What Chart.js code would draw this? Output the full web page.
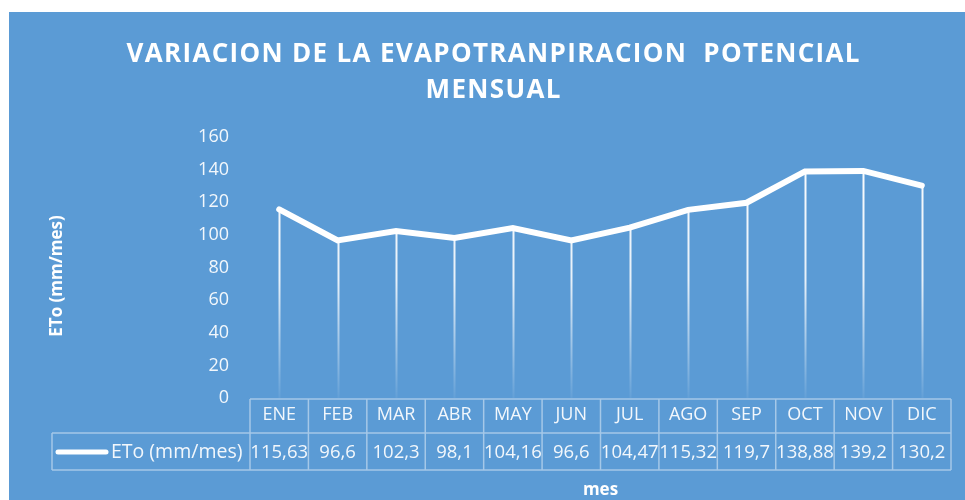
<!DOCTYPE html>
<html>

<head>
    <meta charset="utf-8">
    <title>ETo mensual</title>
    <script src="https://cdn.jsdelivr.net/npm/chart.js@4.4.0/dist/chart.umd.min.js"></script>
    <style>
        body { margin: 0; background: #fff; }
    </style>
</head>

<body>
    <canvas id="chartJSContainer" width="965" height="500"></canvas>
    <script>
        const meses = ["ENE", "FEB", "MAR", "ABR", "MAY", "JUN", "JUL", "AGO", "SEP", "OCT", "NOV", "DIC"]
        const eto = [115.63, 96.6, 102.3, 98.1, 104.16, 96.6, 104.47, 115.32, 119.7, 138.88, 139.2, 130.2]
        const serieNombre = "ETo (mm/mes)"
        const tituloLineas = ["VARIACION DE LA EVAPOTRANPIRACION  POTENCIAL", "MENSUAL"]
        const ejeY = "ETo (mm/mes)"
        const ejeX = "mes"

        const FONT = "'Open Sans', sans-serif"
        const TXT = 'rgba(255,255,255,0.92)'
        const BORDE = 'rgba(255,255,255,0.45)'

        // fondo azul, titulo y textos de ejes
        const decor = {
            id: 'decor',
            beforeDraw(chart) {
                const ctx = chart.ctx
                ctx.save()
                ctx.fillStyle = '#5b9bd5'
                ctx.fillRect(9, 12, chart.width - 9, chart.height - 12)

                ctx.fillStyle = '#fff'
                ctx.font = 'bold 26px ' + FONT
                ctx.textBaseline = 'alphabetic'
                ctx.textAlign = 'left'
                const target = 733
                const w0 = ctx.measureText(tituloLineas[0]).width
                const ls = (target - w0) / (tituloLineas[0].length - 1)
                ctx.letterSpacing = ls + 'px'
                const cx = 493
                ctx.fillText(tituloLineas[0], cx - target / 2, 62)
                const w1 = ctx.measureText(tituloLineas[1]).width - ls
                ctx.fillText(tituloLineas[1], cx - w1 / 2, 98)
                ctx.letterSpacing = '0px'

                // titulo eje Y
                ctx.font = 'bold 17px ' + FONT
                ctx.textAlign = 'center'
                ctx.textBaseline = 'middle'
                ctx.translate(57, 276)
                ctx.rotate(-Math.PI / 2)
                ctx.fillText(ejeY, 0, 0)
                ctx.restore()

                ctx.save()
                ctx.fillStyle = '#fff'
                ctx.font = 'bold 17px ' + FONT
                ctx.textAlign = 'center'
                ctx.textBaseline = 'middle'
                const a = chart.chartArea
                ctx.fillText(ejeX, (a.left + a.right) / 2, 490)
                ctx.restore()
            },
            beforeDatasetsDraw(chart) {
                // lineas de caida desde cada punto
                const ctx = chart.ctx
                const a = chart.chartArea
                const meta = chart.getDatasetMeta(0)
                const g = ctx.createLinearGradient(0, a.top, 0, a.bottom)
                g.addColorStop(0, 'rgba(255,255,255,1)')
                g.addColorStop(0.55, 'rgba(255,255,255,0.85)')
                g.addColorStop(1, 'rgba(255,255,255,0.05)')
                ctx.save()
                ctx.strokeStyle = g
                ctx.lineWidth = 2
                meta.data.forEach(p => {
                    ctx.beginPath()
                    ctx.moveTo(Math.round(p.x) + 0.5, p.y)
                    ctx.lineTo(Math.round(p.x) + 0.5, a.bottom)
                    ctx.stroke()
                })
                ctx.restore()
            },
            afterDraw(chart) {
                // tabla de datos
                const ctx = chart.ctx
                const a = chart.chartArea
                const x = chart.scales.x
                const step = (a.right - a.left) / meses.length
                const y0 = 399, y1 = 433, y2 = 470, xl = 52
                ctx.save()
                ctx.strokeStyle = BORDE
                ctx.lineWidth = 1.5
                ctx.beginPath()
                ctx.moveTo(a.left, y0); ctx.lineTo(a.right, y0)
                ctx.moveTo(xl, y1); ctx.lineTo(a.right, y1)
                ctx.moveTo(xl, y2); ctx.lineTo(a.right, y2)
                for (let i = 0; i <= meses.length; i++) {
                    const xx = a.left + i * step
                    ctx.moveTo(xx, y0); ctx.lineTo(xx, y2)
                }
                ctx.moveTo(xl, y1); ctx.lineTo(xl, y2)
                ctx.stroke()

                ctx.fillStyle = TXT
                ctx.font = '18.5px ' + FONT
                ctx.textAlign = 'center'
                ctx.textBaseline = 'middle'
                eto.forEach((v, i) => {
                    ctx.fillText(String(v).replace('.', ','), x.getPixelForValue(i), (y1 + y2) / 2 + 1)
                })

                // leyenda en la tabla
                ctx.strokeStyle = '#fff'
                ctx.lineWidth = 5
                ctx.lineCap = 'round'
                ctx.beginPath()
                ctx.moveTo(58, 452); ctx.lineTo(106, 452)
                ctx.stroke()
                ctx.textAlign = 'left'
                ctx.font = '19.5px ' + FONT
                ctx.fillText(serieNombre, 111, (y1 + y2) / 2 + 1)
                ctx.restore()
            }
        }

        var options = {
            type: 'line',
            data: {
                labels: meses,
                datasets: [{
                    label: serieNombre,
                    data: eto,
                    borderColor: '#ffffff',
                    borderWidth: 6,
                    borderCapStyle: 'round',
                    borderJoinStyle: 'miter',
                    pointRadius: 0,
                    tension: 0,
                    fill: false
                }]
            },
            options: {
                responsive: false,
                animation: false,
                layout: { padding: { top: 137, right: 14, left: 0, bottom: 0 } },
                plugins: {
                    legend: { display: false },
                    title: { display: false },
                    tooltip: { enabled: false }
                },
                scales: {
                    x: {
                        offset: true,
                        grid: { display: false, drawTicks: false },
                        border: { display: false },
                        ticks: {
                            color: TXT,
                            font: { family: FONT, size: 18 },
                            padding: 6,
                            maxRotation: 0,
                            autoSkip: false
                        },
                        afterFit(s) { s.height = 102 }
                    },
                    y: {
                        min: 0,
                        max: 160,
                        grid: { display: false, drawTicks: false },
                        border: { display: false },
                        ticks: {
                            stepSize: 20,
                            color: TXT,
                            font: { family: FONT, size: 18 },
                            padding: 21
                        },
                        afterFit(s) { s.width = 250 }
                    }
                }
            },
            plugins: [decor]
        }

        var context = document.getElementById('chartJSContainer').getContext('2d');
        var etoChart = new Chart(context, options);
    </script>
</body>

</html>
